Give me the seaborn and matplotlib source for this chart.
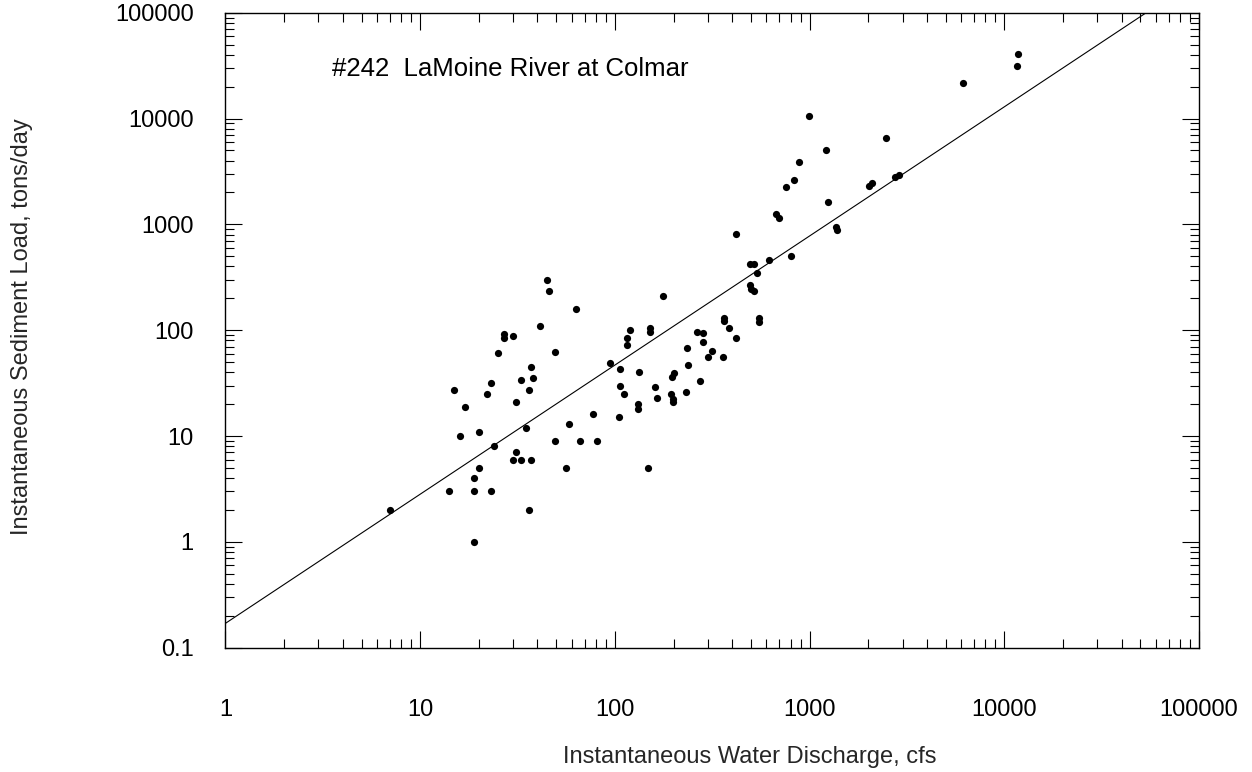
import numpy as np
import pandas as pd
import matplotlib
matplotlib.use("Agg")
import matplotlib.pyplot as plt
import matplotlib.ticker as mticker
import seaborn as sns

# ---- data ----
discharge = [7, 19, 14, 19, 23, 19, 20, 36, 30, 33, 37, 31, 24, 16, 20, 35, 17, 15, 22, 23,
             31, 36, 33, 38, 37, 25, 27, 27, 30, 41, 49, 45, 46, 63, 177, 94, 106, 116, 115, 120,
             151, 151, 106, 111, 133, 161, 165, 194, 198, 198, 196, 201, 132, 132, 105, 77, 58, 49, 66, 81,
             56, 148, 234, 237, 233, 263, 283, 285, 273, 300, 315, 360, 362, 363, 384, 419, 494, 516, 535, 494,
             498, 516, 552, 552, 618, 800, 419, 672, 694, 757, 832, 885, 996, 1214, 1243, 1367, 1375, 2030, 2080, 2470,
             2750, 2890, 6110, 11600, 11800]
sediment = [2, 1, 3, 3, 3, 4, 5, 2, 6, 6, 6, 7, 8, 10, 11, 12, 19, 27, 25, 32,
            21, 27, 34, 35, 45, 61, 92, 84, 88, 109, 62, 300, 234, 158, 211, 49, 43, 84, 73, 100,
            106, 97, 30, 25, 40, 29, 23, 25, 22.5, 21, 36, 39, 20, 18, 15, 16, 13, 9, 9, 9,
            5, 5, 68, 47, 26, 97, 94, 78, 33, 56, 64, 56, 131, 123, 105, 85, 424, 425, 349, 269,
            246, 234, 131, 119, 460, 505, 810, 1250, 1150, 2240, 2620, 3850, 10600, 5000, 1620, 950, 880, 2300, 2440, 6500,
            2780, 2940, 21700, 31100, 40700]

# rating-curve fit  Qs = a * Q^b
fit_coef = 0.17
fit_exp = 1.22

x_ticks = [1, 10, 100, 1000, 10000, 100000]
x_tick_labels = ["1", "10", "100", "1000", "10000", "100000"]
y_ticks = [0.1, 1, 10, 100, 1000, 10000, 100000]
y_tick_labels = ["0.1", "1", "10", "100", "1000", "10000", "100000"]

title_text = "#242  LaMoine River at Colmar"
x_label = "Instantaneous Water Discharge, cfs"
y_label = "Instantaneous Sediment Load, tons/day"

# ---- figure ----
sns.set_style("ticks")
plt.rcParams["font.family"] = ["Liberation Sans", "DejaVu Sans"]
FS = 17

fig = plt.figure(figsize=(12.52, 7.72), dpi=100)
ax = fig.add_axes([0.1801, 0.1610, 0.7776, 0.8226])

df = pd.DataFrame({"Q": discharge, "Qs": sediment})

ax.set_xscale("log")
ax.set_yscale("log")

# fitted line across the x range
xl = np.logspace(np.log10(x_ticks[0]), np.log10(x_ticks[-1]), 200)
line_df = pd.DataFrame({"Q": xl, "Qs": fit_coef * xl ** fit_exp})
sns.lineplot(data=line_df, x="Q", y="Qs", ax=ax, color="black", linewidth=0.8)

sns.scatterplot(data=df, x="Q", y="Qs", ax=ax, color="black", s=27, linewidth=0, zorder=3)

ax.set_xlim(x_ticks[0], x_ticks[-1])
ax.set_ylim(y_ticks[0], y_ticks[-1])

ax.xaxis.set_major_locator(mticker.FixedLocator(x_ticks))
ax.xaxis.set_major_formatter(mticker.FixedFormatter(x_tick_labels))
ax.yaxis.set_major_locator(mticker.FixedLocator(y_ticks))
ax.yaxis.set_major_formatter(mticker.FixedFormatter(y_tick_labels))
ax.xaxis.set_minor_locator(mticker.LogLocator(base=10, subs=np.arange(2, 10), numticks=20))
ax.yaxis.set_minor_locator(mticker.LogLocator(base=10, subs=np.arange(2, 10), numticks=20))
ax.xaxis.set_minor_formatter(mticker.NullFormatter())
ax.yaxis.set_minor_formatter(mticker.NullFormatter())

ax.tick_params(which="both", direction="in", top=True, right=True, colors="black",
               width=0.8, labelsize=FS)
ax.tick_params(which="major", length=12)
ax.tick_params(which="minor", length=6.5)
ax.tick_params(axis="x", which="major", pad=37)
ax.tick_params(axis="y", which="major", pad=23)

for sp in ax.spines.values():
    sp.set_color("black")
    sp.set_linewidth(1.0)
    sp.set_visible(True)

ax.set_xlabel(x_label, fontsize=FS, ha="left", va="baseline")
ax.set_ylabel(y_label, fontsize=FS, va="baseline")
ax.xaxis.set_label_coords(0.3467, -0.182)
ax.yaxis.set_label_coords(-0.2026, 0.505)

ax.text(0.1096, 0.9003, title_text, transform=ax.transAxes, fontsize=18.5,
        ha="left", va="baseline", color="black")

fig.savefig("out.png", dpi=100)
